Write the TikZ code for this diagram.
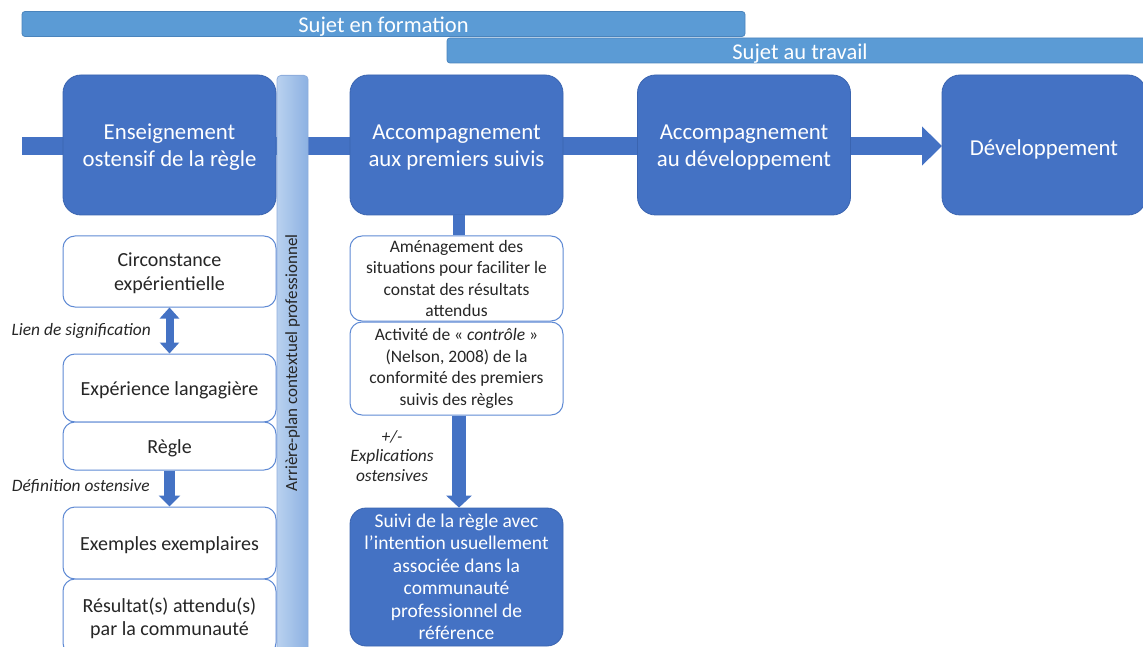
\documentclass[tikz,border=0pt]{standalone}
\usepackage{fontspec}
\setmainfont{Carlito}
\usetikzlibrary{arrows.meta}
\definecolor{dblue}{HTML}{4472C4}
\definecolor{dborder}{HTML}{3A64B0}
\definecolor{barblue}{HTML}{5B9BD5}
\definecolor{barborder}{HTML}{4A84BC}
\definecolor{wborder}{HTML}{5F8AD4}
\definecolor{txt}{HTML}{262626}
\definecolor{vbarL}{HTML}{B9D1EF}
\definecolor{vbarR}{HTML}{8CB1E2}
\definecolor{vbarB}{HTML}{8FAEDD}
\def\dnh{0pt}
\tikzset{
  dn/.code={\def\dnh{#1}},
  usedn/.style={execute at begin node={\rule{0pt}{\dnh}}},
  mainbox/.style={rectangle, rounded corners=18pt, fill=dblue, draw=dborder, line width=0.8pt,
    minimum width=213pt, minimum height=140pt, inner sep=0pt, text=white, align=center,
    font=\fontsize{22.8}{27}\selectfont, usedn, dn=47pt},
  topbar/.style={rectangle, rounded corners=3pt, fill=barblue, draw=barborder, line width=0.8pt,
    minimum height=25pt, inner sep=0pt, text=white, font=\fontsize{22.5}{25}\selectfont,
    text height=20pt, text depth=2pt},
  wbox/.style={rectangle, rounded corners=12pt, fill=white, draw=wborder, line width=1pt,
    minimum width=213pt, inner sep=0pt, text=txt, align=center,
    font=\fontsize{20}{23.5}\selectfont, usedn, dn=18.5pt},
  sbox/.style={wbox, font=\fontsize{17.5}{21.5}\selectfont, dn=0pt},
  dbox/.style={mainbox, rounded corners=16pt, font=\fontsize{19.5}{22.5}\selectfont, dn=0pt},
  lbl/.style={inner sep=0pt, text=txt, font=\fontsize{17.4}{19.5}\selectfont\itshape, align=center},
  conn/.style={draw=dblue, line cap=butt},
}
\begin{document}
\begin{tikzpicture}[x=1pt,y=-1pt]
\useasboundingbox (0,0) rectangle (1143,647);
\begin{scope}
\clip (0,0) rectangle (1143,647);
% top bars
\node[topbar, minimum width=723pt] (formation) at (383.5,24) {Sujet en formation};
\node[topbar, minimum width=706pt] (travail) at (800,50.5) {Sujet au travail};
% coordinates for the main flow arrow
\coordinate (start) at (22,146);
\coordinate (b4w) at (942,146);
\draw[conn, line width=18pt, -{Triangle[width=38pt,length=20pt]}] (start) -- (b4w);
% background vertical bar
\node[rectangle, rounded corners=4pt, left color=vbarL, right color=vbarR, draw=vbarB,
  line width=0.8pt, minimum width=31pt, minimum height=590pt, inner sep=0pt,
  anchor=north] (vbar) at (292.5,75) {};
\node[rotate=90, inner sep=0pt, text=txt, font=\fontsize{17}{20}\selectfont] (vbartext) at (292.5,363)
  {Arrière-plan contextuel professionnel};
% main boxes
\node[mainbox] (b1) at (169.5,145) {Enseignement\\ostensif de la règle};
\node[mainbox] (b2) at (456.5,145) {Accompagnement\\aux premiers suivis};
\node[mainbox] (b3) at (744,145) {Accompagnement\\au développement};
\node[mainbox, minimum width=204pt, dn=24pt] (b4) at (1044,145) {Développement};
% left column
\node[wbox, minimum height=71pt, dn=40.5pt] (circ) at (169.5,271.5) {Circonstance\\expérientielle};
\node[wbox, minimum height=68pt] (exp) at (169.5,388) {Expérience langagière};
\node[wbox, minimum height=48pt] (regle) at (169.5,446) {Règle};
\node[wbox, minimum height=72pt] (ex) at (169.5,543) {Exemples exemplaires};
\node[wbox, minimum height=76pt, dn=40.5pt] (res) at (169.5,617) {Résultat(s) attendu(s)\\par la communauté};
\draw[conn, line width=8pt, {Triangle[width=19pt,length=11pt]}-{Triangle[width=19pt,length=11pt]}]
  (circ.south) -- (exp.north);
\draw[conn, line width=11pt, -{Triangle[width=21pt,length=11pt]}] (regle.south) -- (ex.north);
\node[lbl, anchor=east] (lien) at (151,331) {Lien de signification};
\node[lbl, anchor=east] (defo) at (150,487) {Définition ostensive};
% middle column
\node[sbox, minimum height=85pt] (amen) at (456.5,278.5) {Aménagement des\\situations pour faciliter le\\constat des résultats\\attendus};
\node[sbox, minimum height=93pt] (act) at (456.5,368.5) {Activité de « \textit{contrôle} »\\(Nelson, 2008) de la\\conformité des premiers\\suivis des règles};
\node[dbox, minimum height=138pt] (suivi) at (456.5,577) {Suivi de la règle avec\\l’intention usuellement\\associée dans la\\communauté\\professionnel de\\référence};
\draw[conn, line width=12pt] ([xshift=2.5pt]b2.south) -- ([xshift=2.5pt]amen.north);
\draw[conn, line width=14pt, -{Triangle[width=25pt,length=12pt]}] ([xshift=2.5pt]act.south) -- ([xshift=2.5pt]suivi.north);
\node[lbl] (expl) at (392,456) {+/-\\Explications\\ostensives};
\end{scope}
\end{tikzpicture}
\end{document}
